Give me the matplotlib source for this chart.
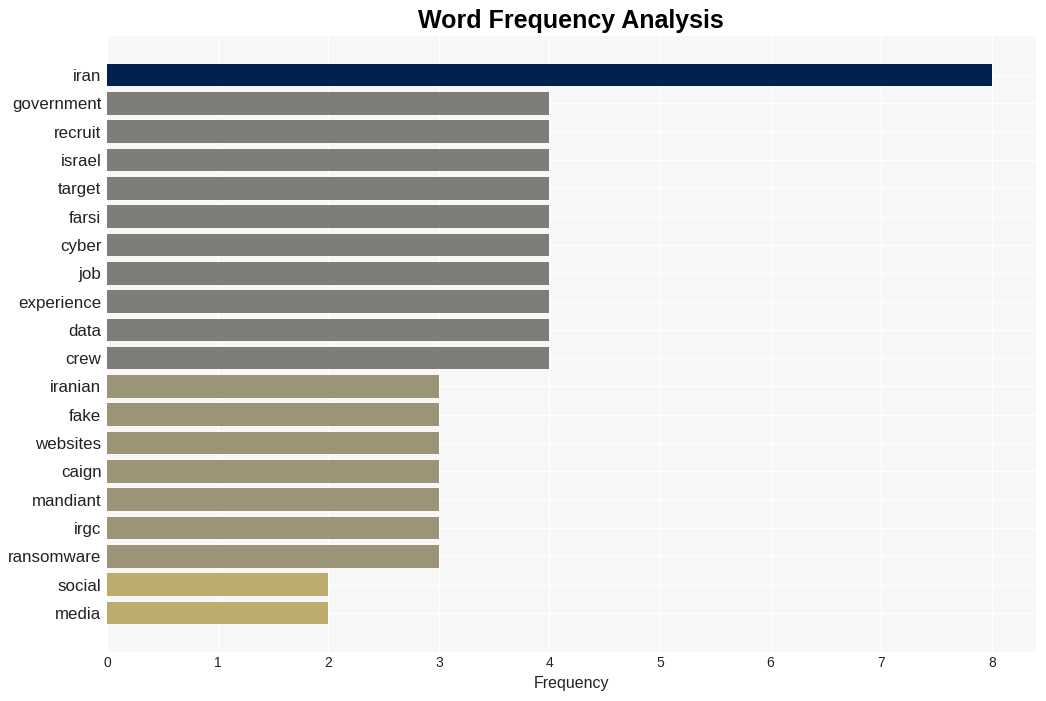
import matplotlib
matplotlib.use('Agg')
import matplotlib.pyplot as plt

words = ['iran', 'government', 'recruit', 'israel', 'target', 'farsi', 'cyber', 'job',
         'experience', 'data', 'crew', 'iranian', 'fake', 'websites', 'caign',
         'mandiant', 'irgc', 'ransomware', 'social', 'media']
counts = [8, 4, 4, 4, 4, 4, 4, 4, 4, 4, 4, 3, 3, 3, 3, 3, 3, 3, 2, 2]
colour_by_count = {8: '#00204e', 4: '#7f7d79', 3: '#9b9476', 2: '#bcad6c'}

plt.rcParams['font.family'] = ['Liberation Sans', 'DejaVu Sans']

fig = plt.figure(figsize=(10.46, 7.01), dpi=100)
ax = fig.add_axes([107/1046, 1 - 652/701, (1036-107)/1046, (652-36)/701])
ax.set_facecolor('#f7f7f7')

ypos = list(range(len(words)))
ax.barh(ypos, counts, height=0.8, color=[colour_by_count[c] for c in counts], zorder=2)
ax.set_yticks(ypos)
ax.set_yticklabels(words, fontsize=12.2, color='#222222')
ax.set_ylim(len(words) - 1 + 1.38, -1.38)
ax.set_xlim(0, 8.4)
ax.set_xticks(range(9))
ax.tick_params(axis='x', labelsize=10, colors='#222222', length=0, pad=3)
ax.tick_params(axis='y', length=0, pad=4)
ax.grid(True, color='white', linewidth=1, zorder=1)
ax.set_axisbelow(True)
for s in ax.spines.values():
    s.set_visible(False)

ax.set_xlabel('Frequency', fontsize=11.5, color='#222222', labelpad=4)
fig.suptitle('Word Frequency Analysis', fontsize=18, fontweight='bold', x=571/1046, y=0.987)

fig.savefig('out.png', dpi=100)
